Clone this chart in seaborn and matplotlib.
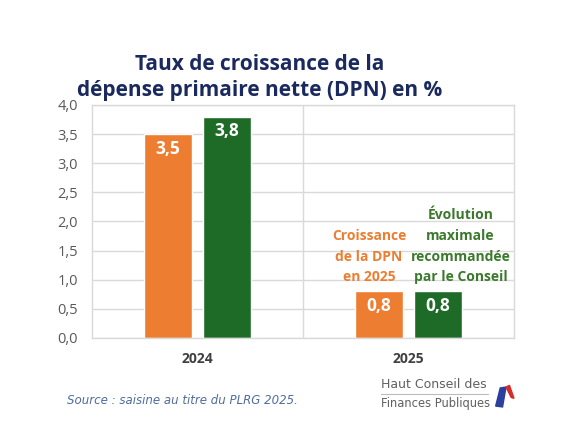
import numpy as np
import pandas as pd
import matplotlib
matplotlib.use("Agg")
import matplotlib.pyplot as plt
import seaborn as sns
from matplotlib.patches import Polygon
from matplotlib.lines import Line2D

# donnees
annees = ["2024", "2025"]
series = ["Croissance de la DPN", "Évolution maximale recommandée"]
val_dpn = [3.5, 0.8]
val_max = [3.8, 0.8]
etiquettes_y = ["0,0", "0,5", "1,0", "1,5", "2,0", "2,5", "3,0", "3,5", "4,0"]

orange = "#ED7D31"
vert = "#1E6A27"
vert_txt = "#3B7A2C"
bleu_titre = "#1B2A5E"

df = pd.DataFrame({
    "annee": annees * 2,
    "serie": [series[0]] * 2 + [series[1]] * 2,
    "valeur": val_dpn + val_max,
})

sns.set_style("white")
plt.rcParams["font.family"] = ["Open Sans", "DejaVu Sans"]

fig = plt.figure(figsize=(5.75, 4.32), dpi=100)
ax = fig.add_axes([0.160, 0.218, 0.734, 0.539])

sns.barplot(data=df, x="annee", y="valeur", hue="serie",
            palette=[orange, vert], width=0.56, gap=0.2,
            saturation=1, legend=False, ax=ax)

ax.set_ylim(0, 4.0)
ax.set_xlim(-0.5, 1.5)
ax.set_yticks(np.arange(0, 4.01, 0.5))
ax.set_yticklabels(etiquettes_y, fontsize=10.5, color="#595959")
ax.set_xlabel("")
ax.set_ylabel("")
ax.tick_params(axis="x", labelsize=10, colors="#404040", length=0, pad=10)
for lab in ax.get_xticklabels():
    lab.set_fontweight("bold")
ax.tick_params(axis="y", length=0, pad=10)
ax.yaxis.grid(True, color="#D9D9D9", linewidth=1)
ax.set_axisbelow(True)
ax.axvline(0.5, color="#D9D9D9", linewidth=1, zorder=0)
for s in ax.spines.values():
    s.set_color("#D9D9D9")
    s.set_linewidth(1)

# valeurs dans les barres
for cont in ax.containers:
    ax.bar_label(cont, labels=[f"{v:.1f}".replace(".", ",") for v in cont.datavalues],
                 label_type="edge", padding=-17, color="white",
                 fontsize=12.5, fontweight="bold")

# textes au-dessus des barres 2025
x_or = ax.containers[0][1].get_x() + ax.containers[0][1].get_width() / 2
x_vt = ax.containers[1][1].get_x() + ax.containers[1][1].get_width() / 2
ax.text(x_or - 0.047, 0.92, "Croissance\nde la DPN\nen 2025", ha="center", va="bottom",
        color=orange, fontsize=10, fontweight="bold", linespacing=1.6)
ax.text(x_vt + 0.107, 0.92, "Évolution\nmaximale\nrecommandée\npar le Conseil", ha="center",
        va="bottom", color=vert_txt, fontsize=10, fontweight="bold", linespacing=1.6)

fig.text(0.452, 0.82, "Taux de croissance de la\ndépense primaire nette (DPN) en %",
         ha="center", va="center", fontsize=15, fontweight="bold", color=bleu_titre,
         linespacing=1.3)

fig.text(0.117, 0.074, "Source : saisine au titre du PLRG 2025.", fontsize=8.5,
         style="italic", color="#4F6C9C", va="center", family="DejaVu Sans")

# logo
fig.text(0.663, 0.109, "Haut Conseil des", fontsize=9, color="#606060", va="center",
         family="DejaVu Sans")
fig.text(0.663, 0.067, "Finances Publiques", fontsize=8.3, color="#606060", va="center",
         family="DejaVu Sans")
fig.add_artist(Line2D([0.663, 0.848], [0.088, 0.088], color="#BBBBBB", linewidth=0.8,
                      transform=fig.transFigure))
fig.add_artist(Polygon([[0.862, 0.060], [0.870, 0.102], [0.880, 0.104], [0.874, 0.058]],
                       closed=True, color="#2B3F9E", transform=fig.transFigure))
fig.add_artist(Polygon([[0.880, 0.104], [0.886, 0.108], [0.894, 0.078], [0.889, 0.080]],
                       closed=True, color="#D52B2B", transform=fig.transFigure))

fig.savefig("out.png", dpi=100)
